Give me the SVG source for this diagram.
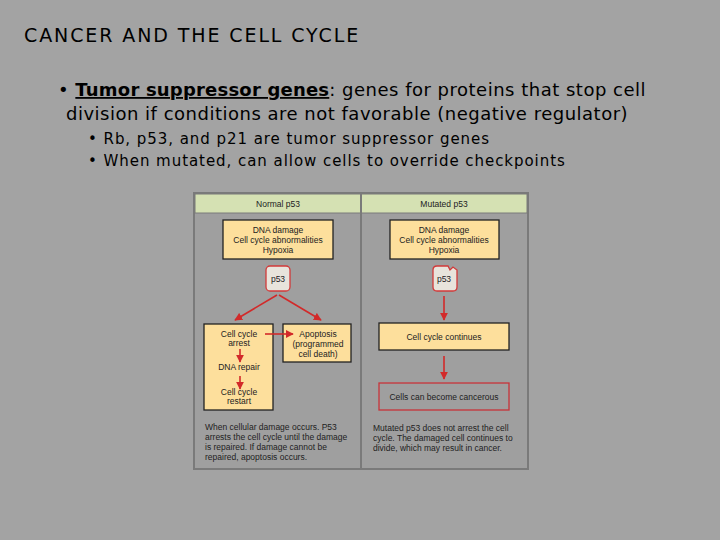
<svg xmlns="http://www.w3.org/2000/svg" width="720" height="540" viewBox="0 0 720 540">
<defs>
<style>
.t{font-family:"DejaVu Sans",sans-serif;fill:#000}
.f{font-family:"Liberation Sans",Arial,sans-serif;fill:#222}
.box{fill:#fddf9c;stroke:#222;stroke-width:1.3}
.p{fill:#e8e4dc;stroke:#d23a3a;stroke-width:1.3}
.a{stroke:#d22a2a;stroke-width:1.6;fill:none;marker-end:url(#ah)}
</style>
<marker id="ah" viewBox="0 0 10 10" refX="9" refY="5" markerWidth="5" markerHeight="5" orient="auto"><path d="M0,0L10,5L0,10z" fill="#d22a2a"/></marker>
</defs>
<rect width="720" height="540" fill="#a3a3a3"/>
<text class="t" x="24" y="42" font-size="19" letter-spacing="1.9">CANCER AND THE CELL CYCLE</text>
<text class="t" x="58" y="96" font-size="18" letter-spacing="0.5">• <tspan font-weight="bold" text-decoration="underline" letter-spacing="0.2">Tumor suppressor genes</tspan>: genes for proteins that stop cell</text>
<text class="t" x="66" y="120" font-size="18" letter-spacing="0.5">division if conditions are not favorable (negative regulator)</text>
<text class="t" x="88" y="144" font-size="15" letter-spacing="0.95">• Rb, p53, and p21 are tumor suppressor genes</text>
<text class="t" x="88" y="166" font-size="15" letter-spacing="0.95">• When mutated, can allow cells to override checkpoints</text>
<g id="figure">
<rect x="194" y="193" width="334" height="276" fill="#9f9f9f" stroke="#7a7a7a" stroke-width="2"/>
<rect x="195" y="194" width="332" height="19" fill="#d5e1b3" stroke="#7a7a7a"/>
<line x1="361" y1="193" x2="361" y2="469" stroke="#7a7a7a" stroke-width="2"/>
<text class="f" x="278" y="207" font-size="8.5" text-anchor="middle">Normal p53</text>
<text class="f" x="444" y="207" font-size="8.5" text-anchor="middle">Mutated p53</text>
</g>
<g id="n-dna-l"><rect class="box" x="223" y="220" width="110" height="39"/>
<text class="f" x="278" y="233" font-size="8.5" text-anchor="middle">DNA damage</text>
<text class="f" x="278" y="243" font-size="8.5" text-anchor="middle">Cell cycle abnormalities</text>
<text class="f" x="278" y="253" font-size="8.5" text-anchor="middle">Hypoxia</text></g>
<g id="n-p53-l"><rect class="p" x="266" y="266" width="24" height="25" rx="4"/>
<text class="f" x="278" y="282" font-size="8.5" text-anchor="middle">p53</text></g>
<g id="n-arrest"><rect class="box" x="204" y="324" width="69" height="86"/>
<text class="f" x="239" y="337" font-size="8.5" text-anchor="middle">Cell cycle</text>
<text class="f" x="239" y="346" font-size="8.5" text-anchor="middle">arrest</text>
<text class="f" x="239" y="370" font-size="8.5" text-anchor="middle">DNA repair</text>
<text class="f" x="239" y="395" font-size="8.5" text-anchor="middle">Cell cycle</text>
<text class="f" x="239" y="404" font-size="8.5" text-anchor="middle">restart</text></g>
<g id="n-apop"><rect class="box" x="283" y="324" width="68" height="38"/>
<text class="f" x="318" y="337" font-size="8.5" text-anchor="middle">Apoptosis</text>
<text class="f" x="318" y="347" font-size="8.5" text-anchor="middle">(programmed</text>
<text class="f" x="318" y="357" font-size="8.5" text-anchor="middle">cell death)</text></g>
<g id="n-dna-r"><rect class="box" x="390" y="220" width="109" height="39"/>
<text class="f" x="444" y="233" font-size="8.5" text-anchor="middle">DNA damage</text>
<text class="f" x="444" y="243" font-size="8.5" text-anchor="middle">Cell cycle abnormalities</text>
<text class="f" x="444" y="253" font-size="8.5" text-anchor="middle">Hypoxia</text></g>
<g id="n-p53-r"><path class="p" d="M437,266H448L450,270L453,267L457,270V287Q457,291 453,291H437Q433,291 433,287V270Q433,266 437,266z"/>
<text class="f" x="444" y="282" font-size="8.5" text-anchor="middle">p53</text></g>
<g id="n-cont"><rect class="box" x="379" y="323" width="130" height="27"/>
<text class="f" x="444" y="340" font-size="8.5" text-anchor="middle">Cell cycle continues</text></g>
<g id="n-canc"><rect x="379" y="383" width="130" height="27" fill="none" stroke="#c8343a" stroke-width="1.3"/>
<text class="f" x="444" y="400" font-size="8.5" text-anchor="middle">Cells can become cancerous</text></g>
<g id="captions">
<text class="f" x="205" y="430" font-size="8.5">When cellular damage occurs. P53</text>
<text class="f" x="205" y="440" font-size="8.5">arrests the cell cycle until the damage</text>
<text class="f" x="205" y="450" font-size="8.5">is repaired. If damage cannot be</text>
<text class="f" x="205" y="460" font-size="8.5">repaired, apoptosis occurs.</text>
<text class="f" x="373" y="431" font-size="8.5">Mutated p53 does not arrest the cell</text>
<text class="f" x="373" y="441" font-size="8.5">cycle. The damaged cell continues to</text>
<text class="f" x="373" y="451" font-size="8.5">divide, which may result in cancer.</text>
</g>
<g id="connectors">
<path class="a" d="M277,295L235,320"/>
<path class="a" d="M279,295L321,320"/>
<path class="a" d="M265,334L293,334"/>
<path class="a" d="M240,349V362"/>
<path class="a" d="M240,376V389"/>
<path class="a" d="M444,296V320"/>
<path class="a" d="M444,356V379"/>
</g>
</svg>
